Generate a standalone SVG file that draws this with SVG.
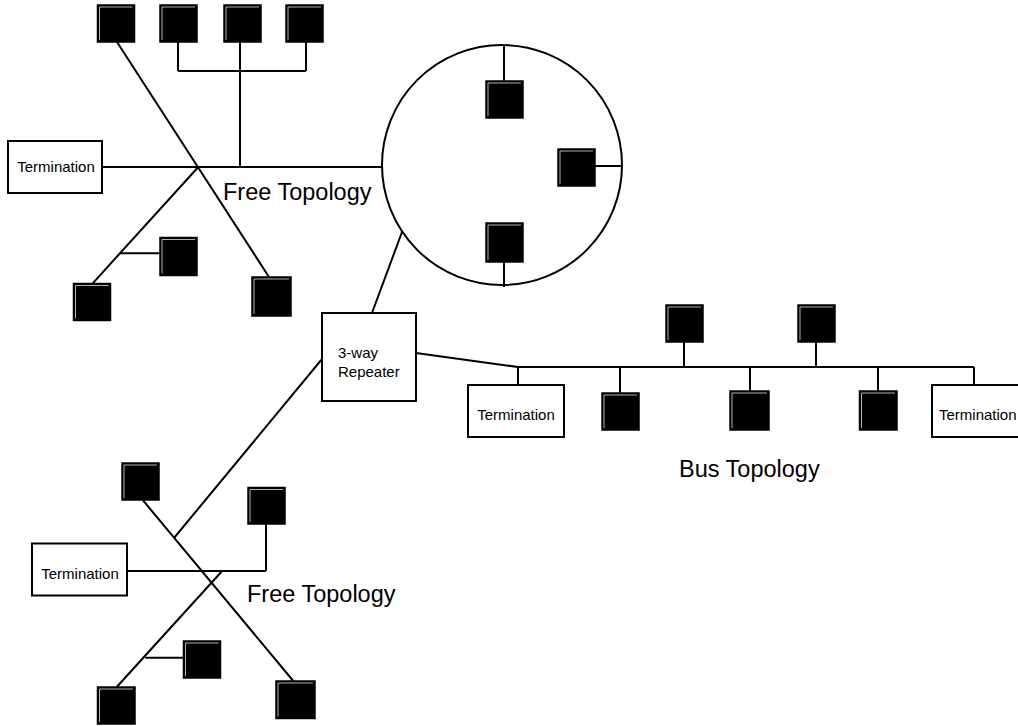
<svg xmlns="http://www.w3.org/2000/svg" width="1018" height="726" viewBox="0 0 1018 726">
<style>
.ln{stroke:#000;stroke-width:2;fill:none}
.box{fill:#fff;stroke:#000;stroke-width:2}
.dev{fill:#000;stroke:#000;stroke-width:1.5}
.hl{fill:none;stroke:#fff;stroke-width:0.7}
.t{font-family:"Liberation Sans",Arial,sans-serif;font-size:15px;fill:#000}
.big{font-family:"Liberation Sans",Arial,sans-serif;font-size:23.5px;fill:#000}
</style>
<rect width="1018" height="726" fill="#fff"/>
<g id="connectors">
  <line class="ln" x1="117" y1="42" x2="269" y2="277"/>
  <line class="ln" x1="178" y1="42" x2="178" y2="71"/>
  <line class="ln" x1="306" y1="42" x2="306" y2="71"/>
  <line class="ln" x1="178" y1="71" x2="306" y2="71"/>
  <line class="ln" x1="240" y1="42" x2="240" y2="167"/>
  <line class="ln" x1="103" y1="167" x2="382" y2="167"/>
  <line class="ln" x1="92.7" y1="283.3" x2="198.3" y2="167"/>
  <line class="ln" x1="120" y1="253.3" x2="160" y2="253.3"/>
  <line class="ln" x1="504" y1="45" x2="504" y2="81"/>
  <line class="ln" x1="595" y1="166" x2="622" y2="166"/>
  <line class="ln" x1="504" y1="262" x2="504" y2="287"/>
  <line class="ln" x1="402" y1="232" x2="372" y2="313"/>
  <line class="ln" x1="416" y1="353" x2="518" y2="367"/>
  <line class="ln" x1="518" y1="367" x2="974" y2="367"/>
  <line class="ln" x1="518" y1="367" x2="518" y2="385"/>
  <line class="ln" x1="620" y1="367" x2="620" y2="393"/>
  <line class="ln" x1="684" y1="342" x2="684" y2="367"/>
  <line class="ln" x1="816" y1="342" x2="816" y2="367"/>
  <line class="ln" x1="750" y1="367" x2="750" y2="391"/>
  <line class="ln" x1="878" y1="367" x2="878" y2="391"/>
  <line class="ln" x1="974" y1="367" x2="974" y2="385"/>
  <line class="ln" x1="322" y1="359" x2="174" y2="538"/>
  <line class="ln" x1="142.7" y1="500" x2="293.3" y2="681"/>
  <line class="ln" x1="127" y1="571" x2="266" y2="571"/>
  <line class="ln" x1="266" y1="571" x2="266" y2="524"/>
  <line class="ln" x1="116.7" y1="687" x2="221.7" y2="571.5"/>
  <line class="ln" x1="145.3" y1="657.7" x2="183.3" y2="657.7"/>
</g>
<g id="ring">
  <circle class="ln" cx="502" cy="165" r="120"/>
</g>
<g id="term-top"><rect class="box" x="8" y="141" width="94" height="52"/><text class="t" x="56" y="172" text-anchor="middle">Termination</text></g>
<g id="term-bus-left"><rect class="box" x="468" y="385" width="96" height="52"/><text class="t" x="516" y="420" text-anchor="middle">Termination</text></g>
<g id="term-bus-right"><rect class="box" x="932" y="385" width="96" height="52"/><text class="t" x="939" y="420">Termination</text></g>
<g id="term-bottom"><rect class="box" x="32" y="543.5" width="95" height="52"/><text class="t" x="80" y="578.5" text-anchor="middle">Termination</text></g>
<g id="repeater"><rect class="box" x="322" y="313" width="94" height="88"/><text class="t" x="338" y="358">3-way</text><text class="t" x="338" y="377">Repeater</text></g>
<g id="labels">
  <text class="big" x="223" y="200">Free Topology</text>
  <text class="big" x="679" y="477">Bus Topology</text>
  <text class="big" x="247" y="602">Free Topology</text>
</g>
<g id="devices">
  <g id="d1"><rect class="dev" x="97.5" y="5" width="37" height="37"/><path class="hl" d="M99.5 40V7H132.5"/></g>
  <g id="d2"><rect class="dev" x="160" y="5" width="37" height="37"/><path class="hl" d="M162 40V7H195"/></g>
  <g id="d3"><rect class="dev" x="224" y="5" width="37" height="37"/><path class="hl" d="M226 40V7H259"/></g>
  <g id="d4"><rect class="dev" x="286" y="5" width="37" height="37"/><path class="hl" d="M288 40V7H321"/></g>
  <g id="d5"><rect class="dev" x="160" y="237.5" width="37" height="38"/><path class="hl" d="M162 273.5V239.5H195"/></g>
  <g id="d6"><rect class="dev" x="73.5" y="283.5" width="37" height="37"/><path class="hl" d="M75.5 318.5V285.5H108.5"/></g>
  <g id="d7"><rect class="dev" x="252" y="277" width="39" height="39"/><path class="hl" d="M254 314V279H289"/></g>
  <g id="d8"><rect class="dev" x="486" y="81" width="37" height="37"/><path class="hl" d="M488 116V83H521"/></g>
  <g id="d9"><rect class="dev" x="558" y="149" width="37" height="37"/><path class="hl" d="M560 184V151H593"/></g>
  <g id="d10"><rect class="dev" x="486" y="223" width="37" height="39"/><path class="hl" d="M488 260V225H521"/></g>
  <g id="d11"><rect class="dev" x="602" y="393" width="37" height="37"/><path class="hl" d="M604 428V395H637"/></g>
  <g id="d12"><rect class="dev" x="666" y="305" width="37" height="37"/><path class="hl" d="M668 340V307H701"/></g>
  <g id="d13"><rect class="dev" x="730" y="391" width="39" height="39"/><path class="hl" d="M732 428V393H767"/></g>
  <g id="d14"><rect class="dev" x="798" y="305" width="37" height="37"/><path class="hl" d="M800 340V307H833"/></g>
  <g id="d15"><rect class="dev" x="859.5" y="391" width="37.5" height="39"/><path class="hl" d="M861.5 428V393H895"/></g>
  <g id="d16"><rect class="dev" x="122" y="463" width="37" height="37"/><path class="hl" d="M124 498V465H157"/></g>
  <g id="d17"><rect class="dev" x="248" y="487.5" width="37" height="36.5"/><path class="hl" d="M250 522V489.5H283"/></g>
  <g id="d18"><rect class="dev" x="183.5" y="641" width="37" height="37"/><path class="hl" d="M185.5 676V643H218.5"/></g>
  <g id="d19"><rect class="dev" x="97.5" y="687" width="37.5" height="37"/><path class="hl" d="M99.5 722V689H133"/></g>
  <g id="d20"><rect class="dev" x="276" y="681" width="39" height="37.5"/><path class="hl" d="M278 716.5V683H313"/></g>
</g>
</svg>
